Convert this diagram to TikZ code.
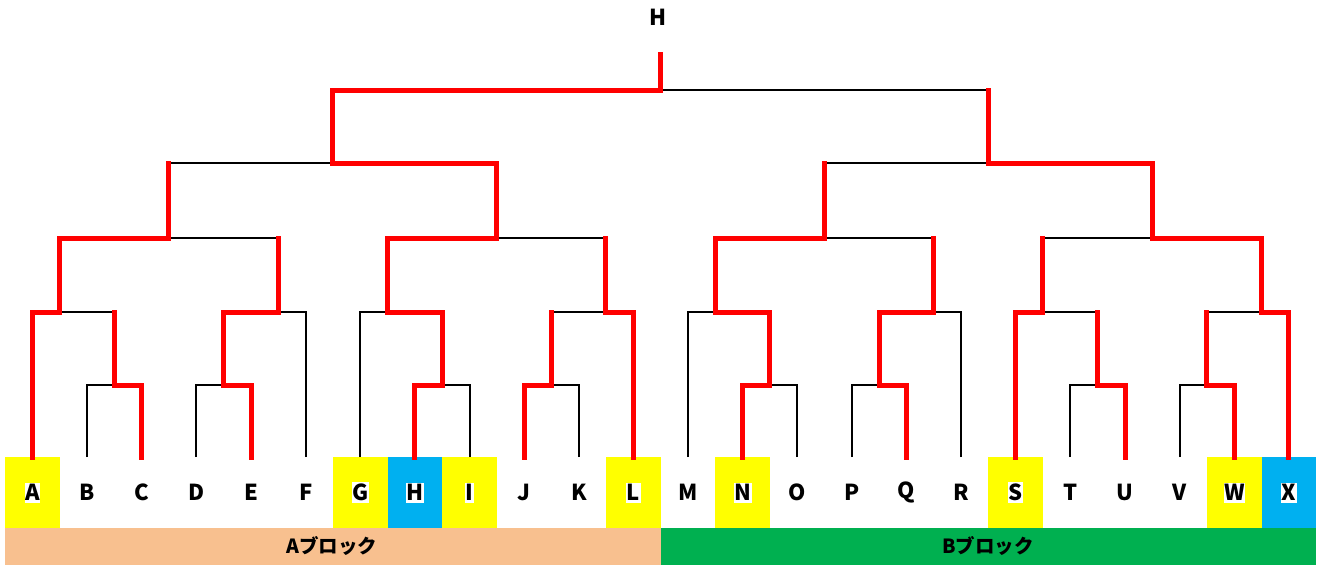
\documentclass[tikz,border=0pt]{standalone}
\usepackage{fontspec}
\setmainfont{Noto Sans CJK JP}
\definecolor{cyel}{HTML}{FFFF00}
\definecolor{cblu}{HTML}{00B0F0}
\definecolor{corg}{HTML}{F8C08F}
\definecolor{cgrn}{HTML}{00B050}
\definecolor{cred}{HTML}{FF0000}
\newcommand\bout[3]{\draw[lose] (#1) |- (#3); \draw[lose] (#2) |- (#3);}
\newcommand\wonarm[3]{\draw[win] (#1) |- (#2) -- (#2 |- #3);}
\begin{document}
\begin{tikzpicture}[x=1pt,y=-1pt,
  lose/.style={black,line width=2pt},
  win/.style={cred,line width=5pt,line cap=rect,line join=miter},
  cellbox/.style={inner sep=0pt,minimum width=54.7pt,minimum height=71pt,anchor=north west},
  letter/.style={fill=white,inner xsep=0.5pt,inner ysep=2pt,font=\fontsize{22}{25}\selectfont\bfseries},
  blocktext/.style={font=\fontsize{19.5}{23}\selectfont\bfseries}]
\useasboundingbox (0,0) rectangle (1320,565);
\fill[white] (0,0) rectangle (1320,565);
% cells
\foreach \n/\c [count=\i from 0] in {A/cyel,B/white,C/white,D/white,E/white,F/white,G/cyel,H/cblu,I/cyel,J/white,K/white,L/cyel,M/white,N/cyel,O/white,P/white,Q/white,R/white,S/cyel,T/white,U/white,V/white,W/cyel,X/cblu}{
  \node[cellbox,fill=\c] (c\n) at ({5+54.625*\i},457) {};
  \node[letter] (l\n) at (c\n.center) {\n};
  \coordinate (t\n) at (c\n.north);
}
% block bars
\node[inner sep=0pt,fill=corg,minimum width=655.5pt,minimum height=37pt,anchor=north west] (blkA) at (5,528) {};
\node[inner sep=0pt,fill=cgrn,minimum width=655.5pt,minimum height=37pt,anchor=north west] (blkB) at (660.5,528) {};
\node[blocktext] (txtA) at (332,546) {Aブロック};
\node[blocktext] (txtB) at (988,546) {Bブロック};
% champion
\node[font=\fontsize{22}{25}\selectfont\bfseries] (champ) at (658,17) {H};
% junctions
\def\b#1{{5+54.625*#1}}
\coordinate (jBC) at (\b{2},385);
\coordinate (jA)  at (\b{1},312);
\coordinate (jDE) at (\b{4},385);
\coordinate (jF)  at (\b{5},312);
\coordinate (jAF) at (\b{3},238);
\coordinate (jHI) at (\b{8},385);
\coordinate (jG)  at (\b{7},312);
\coordinate (jJK) at (\b{10},385);
\coordinate (jL)  at (\b{11},312);
\coordinate (jGL) at (\b{9},238);
\coordinate (jAL) at (\b{6},163);
\coordinate (jNO) at (\b{14},385);
\coordinate (jM)  at (\b{13},312);
\coordinate (jPQ) at (\b{16},385);
\coordinate (jR)  at (\b{17},312);
\coordinate (jMR) at (\b{15},238);
\coordinate (jTU) at (\b{20},385);
\coordinate (jS)  at (\b{19},312);
\coordinate (jVW) at (\b{22},385);
\coordinate (jX)  at (\b{23},312);
\coordinate (jSX) at (\b{21},238);
\coordinate (jMX) at (\b{18},163);
\coordinate (jFin) at (\b{12},90);
\coordinate (top) at (\b{12},54);
% black bracket
\bout{tB}{tC}{jBC}
\bout{tA}{jBC}{jA}
\bout{tD}{tE}{jDE}
\bout{jDE}{tF}{jF}
\bout{jA}{jF}{jAF}
\bout{tH}{tI}{jHI}
\bout{tG}{jHI}{jG}
\bout{tJ}{tK}{jJK}
\bout{jJK}{tL}{jL}
\bout{jG}{jL}{jGL}
\bout{jAF}{jGL}{jAL}
\bout{tN}{tO}{jNO}
\bout{tM}{jNO}{jM}
\bout{tP}{tQ}{jPQ}
\bout{jPQ}{tR}{jR}
\bout{jM}{jR}{jMR}
\bout{tT}{tU}{jTU}
\bout{tS}{jTU}{jS}
\bout{tV}{tW}{jVW}
\bout{jVW}{tX}{jX}
\bout{jS}{jX}{jSX}
\bout{jMR}{jSX}{jMX}
\bout{jAL}{jMX}{jFin}
% winners
\wonarm{tC}{jBC}{jA}
\wonarm{tA}{jA}{jAF}
\wonarm{tE}{jDE}{jF}
\wonarm{jDE}{jF}{jAF}
\wonarm{jA}{jAF}{jAL}
\wonarm{tH}{jHI}{jG}
\wonarm{jHI}{jG}{jGL}
\wonarm{tJ}{jJK}{jL}
\wonarm{tL}{jL}{jGL}
\wonarm{jG}{jGL}{jAL}
\wonarm{jGL}{jAL}{jFin}
\wonarm{tN}{jNO}{jM}
\wonarm{jNO}{jM}{jMR}
\wonarm{tQ}{jPQ}{jR}
\wonarm{jPQ}{jR}{jMR}
\wonarm{jM}{jMR}{jMX}
\wonarm{tU}{jTU}{jS}
\wonarm{tS}{jS}{jSX}
\wonarm{tW}{jVW}{jX}
\wonarm{tX}{jX}{jSX}
\wonarm{jX}{jSX}{jMX}
\wonarm{jSX}{jMX}{jFin}
\wonarm{jAL}{jFin}{top}
\end{tikzpicture}
\end{document}
